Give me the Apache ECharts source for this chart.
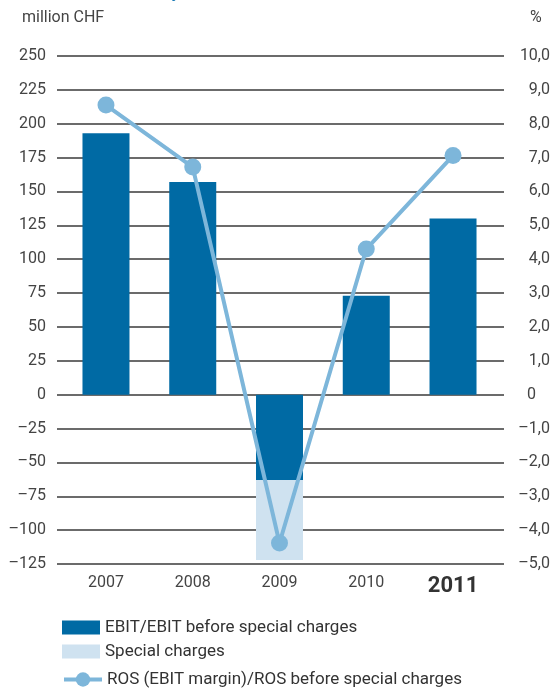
<!DOCTYPE html>
<html>
<head>
<meta charset="utf-8">
<script src="https://cdn.jsdelivr.net/npm/echarts@6/dist/echarts.min.js"></script>
<style>
  html, body { margin: 0; padding: 0; background: #fff; }
  #chart { width: 557px; height: 690px; }
</style>
</head>
<body>
<div id="chart"></div>
<script>
const years = ["2007", "2008", "2009", "2010", "2011"];
const ebit = [193, 157, -63, 73, 130];
const specialCharges = ["-", "-", -59, "-", "-"];
const ros = [8.55, 6.72, -4.38, 4.3, 7.06];
const seriesNames = [
  "EBIT/EBIT before special charges",
  "Special charges",
  "ROS (EBIT margin)/ROS before special charges"
];

const darkBlue = "#006aa4";
const lightBlue = "#cfe2f0";
const lineBlue = "#7db6da";
const gridColor = "#3a3a3a";
const fontFamily = "Roboto, 'Noto Sans', sans-serif";
const dash = "\u2013";

let myChart = echarts.init(document.getElementById("chart"));

// one legend per row so the rows sit where the reference has them
const legendTops = [614, 638, 666];
const legends = seriesNames.map((name, i) => ({
  left: 57,
  top: legendTops[i],
  itemWidth: 38,
  itemHeight: i < 2 ? 14 : 18,
  lineStyle: { width: 4 },
  textStyle: { fontSize: 17, color: "#333", fontFamily: fontFamily },
  data: [i < 2 ? { name: name, icon: "rect" } : { name: name }]
}));

let option = {
  animation: false,
  textStyle: { fontFamily: fontFamily },
  graphic: [
    {
      type: "text",
      left: 22,
      top: -17,
      style: { text: "EBIT / ROS January to June", fill: "#1b7bb6", font: "bold 18px " + fontFamily }
    },
    {
      type: "text",
      left: 22,
      top: 10,
      style: { text: "million CHF", fill: "#444", font: "16px " + fontFamily }
    },
    {
      type: "text",
      left: 530,
      top: 10,
      style: { text: "%", fill: "#444", font: "16px " + fontFamily }
    }
  ],
  legend: legends,
  grid: [
    { left: 57, right: 53, top: 56, bottom: 126 },
    { left: 62.6, right: 60.6, top: 56, bottom: 126 }
  ],
  xAxis: [
    { type: "category", gridIndex: 0, data: years, show: false },
    {
      type: "category",
      gridIndex: 1,
      data: years,
      axisLine: { show: false },
      axisTick: { show: false },
      axisLabel: {
        margin: 11,
        fontSize: 16,
        color: "#444",
        formatter: v => (v === "2011" ? "{b|" + v + "}" : v),
        rich: {
          b: { fontSize: 22, fontWeight: "bold", color: "#333", fontFamily: fontFamily }
        }
      }
    }
  ],
  yAxis: [
    {
      type: "value",
      gridIndex: 0,
      min: -125,
      max: 250,
      interval: 25,
      axisLine: { show: false },
      axisTick: { show: false },
      axisLabel: {
        margin: 11,
        fontSize: 16,
        color: "#444",
        formatter: v => (v < 0 ? dash + Math.abs(v) : String(v))
      },
      splitLine: { lineStyle: { color: gridColor, width: 1.5 } }
    },
    {
      type: "value",
      gridIndex: 0,
      position: "right",
      min: -5,
      max: 10,
      interval: 1,
      axisLine: { show: false },
      axisTick: { show: false },
      splitLine: { show: false },
      axisLabel: {
        margin: 46,
        align: "right",
        fontSize: 16,
        color: "#444",
        formatter: v => {
          if (v === 0) return "{z|0}";
          let s = Math.abs(v).toFixed(1).replace(".", ",");
          return (v < 0 ? dash : "") + s;
        },
        rich: { z: { fontSize: 16, color: "#444", padding: [0, 14, 0, 0], fontFamily: fontFamily } }
      }
    },
    { type: "value", gridIndex: 1, min: -125, max: 250, show: false },
    { type: "value", gridIndex: 1, min: -5, max: 10, show: false }
  ],
  series: [
    {
      name: seriesNames[0],
      type: "bar",
      xAxisIndex: 1,
      yAxisIndex: 2,
      stack: "ebit",
      data: ebit,
      barWidth: 47,
      itemStyle: { color: darkBlue }
    },
    {
      name: seriesNames[1],
      type: "bar",
      xAxisIndex: 1,
      yAxisIndex: 2,
      stack: "ebit",
      data: specialCharges,
      barWidth: 47,
      itemStyle: { color: lightBlue }
    },
    {
      name: seriesNames[2],
      type: "line",
      xAxisIndex: 1,
      yAxisIndex: 3,
      data: ros,
      symbol: "circle",
      symbolSize: 17,
      z: 5,
      lineStyle: { color: lineBlue, width: 4 },
      itemStyle: { color: lineBlue }
    }
  ]
};
myChart.setOption(option);
</script>
</body>
</html>
